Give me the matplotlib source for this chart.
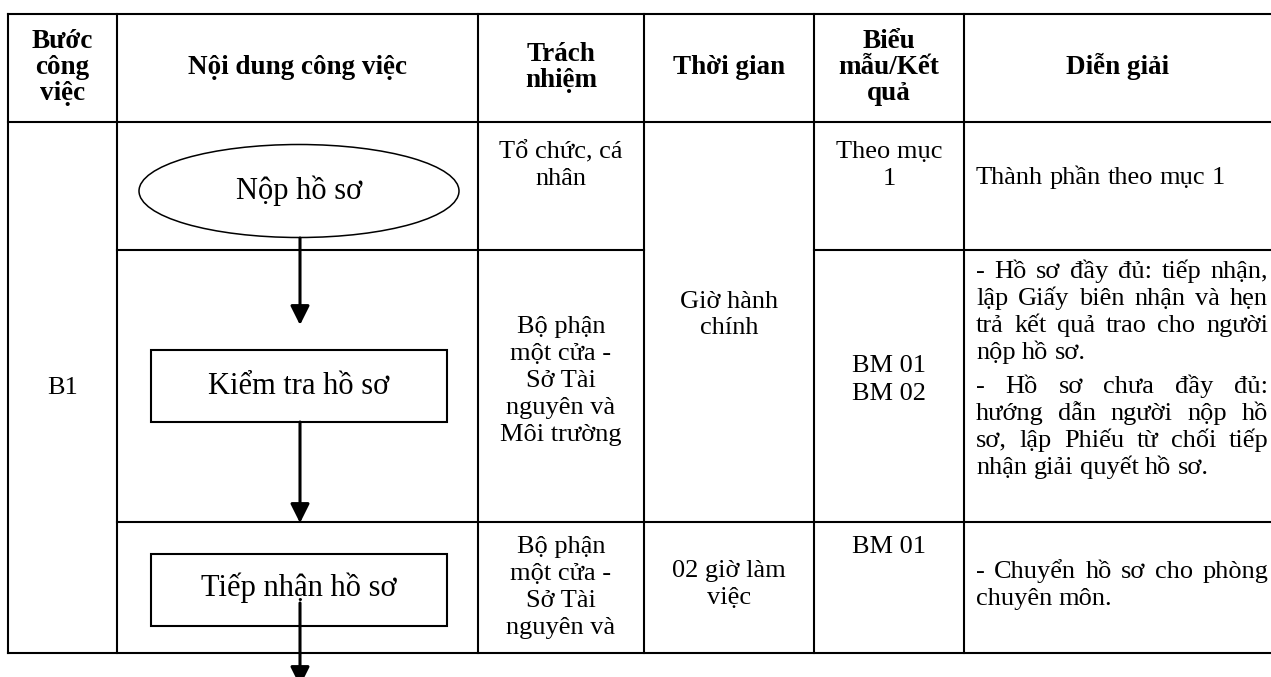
import matplotlib
matplotlib.use("Agg")
import matplotlib.pyplot as plt
from matplotlib.patches import Ellipse, Rectangle, FancyArrowPatch

plt.rcParams['font.family'] = ['Liberation Serif', 'DejaVu Serif']

# ---- table content ----
headers = ["Bước\ncông\nviệc", "Nội dung công việc", "Trách\nnhiệm",
           "Thời gian", "Biểu\nmẫu/Kết\nquả", "Diễn giải"]
step = "B1"
flow_steps = ["Nộp hồ sơ", "Kiểm tra hồ sơ", "Tiếp nhận hồ sơ"]
responsible = ["Tổ chức, cá\nnhân",
               "Bộ phận\nmột cửa -\nSở Tài\nnguyên và\nMôi trường",
               "Bộ phận\nmột cửa -\nSở Tài\nnguyên và"]
durations = ["Giờ hành\nchính", "02 giờ làm\nviệc"]
forms = ["Theo mục\n1", "BM 01\nBM 02", "BM 01"]
notes_row1 = [["Thành phần theo mục 1"]]
notes_row2 = [["- Hồ sơ đầy đủ: tiếp nhận,", "lập Giấy biên nhận và hẹn",
               "trả kết quả trao cho người", "nộp hồ sơ."],
              ["- Hồ sơ chưa đầy đủ:", "hướng dẫn người nộp hồ",
               "sơ, lập Phiếu từ chối tiếp", "nhận giải quyết hồ sơ."]]
notes_row3 = [["- Chuyển hồ sơ cho phòng", "chuyên môn."]]

# ---- layout (pixels) ----
W, H = 1271, 677
cols = [8, 117, 478, 644, 814, 964, 1282]
rows = [14, 122, 250, 522, 653]
FS = 19
HFS = 19.5
PITCH = 27
BASE = 8   # baseline offset below the visual line centre

fig = plt.figure(figsize=(W / 100, H / 100), dpi=100)
ax = fig.add_axes([0, 0, 1, 1])
ax.set_xlim(0, W); ax.set_ylim(H, 0); ax.axis("off")
renderer = fig.canvas.get_renderer()

lw = 1.5
def hline(y, x0, x1):
    ax.plot([x0, x1], [y, y], color="black", lw=lw, solid_capstyle="projecting")
def vline(x, y0, y1):
    ax.plot([x, x], [y0, y1], color="black", lw=lw, solid_capstyle="projecting")

for x in cols:
    vline(x, rows[0], rows[-1])
hline(rows[0], cols[0], cols[-1])
hline(rows[1], cols[0], cols[-1])
hline(rows[2], cols[1], cols[3]); hline(rows[2], cols[4], cols[-1])
hline(rows[3], cols[1], cols[-1])
hline(rows[4], cols[0], cols[-1])

cx = [(cols[i] + cols[i + 1]) / 2 for i in range(len(cols) - 1)]
cx[5] = (cols[5] + 1271) / 2


def block(x, y_first, text, pitch=PITCH, **kw):
    """Draw lines of text centred at x; y_first is the visual centre of line 1."""
    for k, line in enumerate(text.split("\n")):
        ax.text(x, y_first + k * pitch + BASE, line, ha="center", va="baseline", **kw)


def block_c(x, yc, text, pitch=PITCH, **kw):
    n = len(text.split("\n"))
    block(x, yc - (n - 1) * pitch / 2, text, pitch, **kw)


# header
for i, h in enumerate(headers):
    block_c(cx[i], 66, h, pitch=26.5, fontsize=HFS, fontweight="bold")

# step label
block_c(cx[0], 386, step, fontsize=FS)

# flow chart
fcx = 299
ax.add_patch(Ellipse((fcx, 191), 320, 93, fill=False, lw=1.1, ec="black"))
ax.text(fcx, 191, flow_steps[0], ha="center", va="center", fontsize=22)
ax.add_patch(Rectangle((151, 350), 296, 72, fill=False, lw=1.5, ec="black"))
ax.text(fcx, 386, flow_steps[1], ha="center", va="center", fontsize=22)
ax.add_patch(Rectangle((151, 554), 296, 72, fill=False, lw=1.5, ec="black"))
ax.text(fcx, 588, flow_steps[2], ha="center", va="center", fontsize=22)

ax_x = 300
for y0, y1 in [(238, 325), (422, 523), (603, 686)]:
    ax.add_patch(FancyArrowPatch((ax_x, y0), (ax_x, y1),
                 arrowstyle="-|>,head_length=0.5,head_width=0.25",
                 mutation_scale=23, lw=2.2, color="black",
                 shrinkA=0, shrinkB=0, clip_on=False))

# responsibility
block(cx[2], 150, responsible[0], fontsize=FS)
block_c(cx[2], 379, responsible[1], fontsize=FS)
block(cx[2], 545, responsible[2], fontsize=FS)

# time
block_c(cx[3], 313, durations[0], fontsize=FS)
block_c(cx[3], 583, durations[1], fontsize=FS)

# forms
block(cx[4], 150, forms[0], fontsize=FS)
block_c(cx[4], 378, forms[1], fontsize=FS)
block(cx[4], 545, forms[2], fontsize=FS)

# notes, justified
tx0, tx1 = 976, 1268
def justify(line, y, last):
    words = line.split(" ")
    ts = [ax.text(0, y, w, fontsize=FS, va="baseline", ha="left") for w in words]
    ws = [t.get_window_extent(renderer).width for t in ts]
    if last or len(words) == 1:
        sp = ax.text(0, 0, " ", fontsize=FS)
        gap = sp.get_window_extent(renderer).width
        sp.remove()
    else:
        gap = (tx1 - tx0 - sum(ws)) / (len(words) - 1)
    x = tx0
    for t, w in zip(ts, ws):
        t.set_x(x); x += w + gap

def paragraphs(paras, y_first, para_gap):
    y = y_first + BASE
    for p in paras:
        for j, line in enumerate(p):
            justify(line, y, j == len(p) - 1)
            y += PITCH
        y += para_gap

paragraphs(notes_row1, 176, 0)
paragraphs(notes_row2, 270, 7)
paragraphs(notes_row3, 570, 0)

fig.savefig("out.png", dpi=100)
